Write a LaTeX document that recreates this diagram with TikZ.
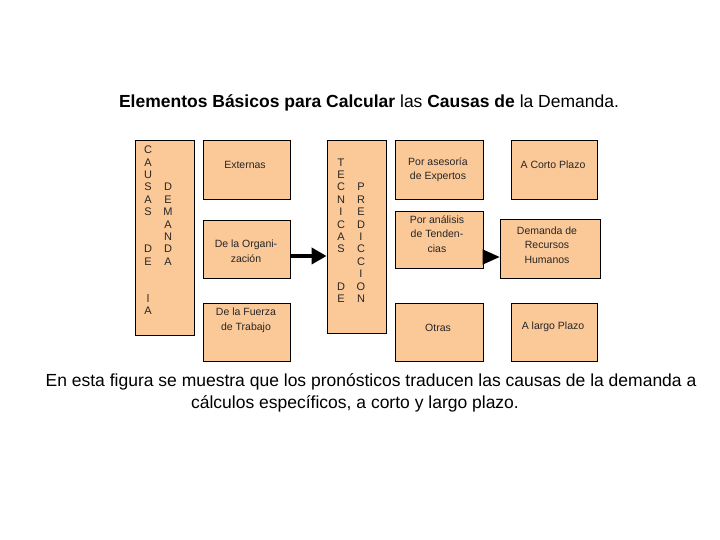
\documentclass[tikz,border=0pt]{standalone}
\usepackage{fontspec}
\setmainfont{Liberation Sans}
\usetikzlibrary{shadows,arrows.meta}
\definecolor{peach}{RGB}{251,200,152}
\begin{document}
\begin{tikzpicture}[x=1pt,y=1pt,
  box/.style={draw=black, line width=0.8pt, fill=peach, inner sep=0pt,
    general shadow={fill=black, shadow xshift=1.3pt, shadow yshift=-1.3pt}},
  lbl/.style={font=\fontsize{10.5}{14.5}\selectfont, align=center, text=black!85, anchor=center, inner sep=0pt},
  vlet/.style={font=\fontsize{11}{12}\selectfont, text=black!85, anchor=center, inner sep=0pt},
  bigarrow/.style={line width=4pt, -{Triangle[length=15pt,width=16pt]}},
  wedge/.style={line width=1pt, -{Triangle[length=17pt,width=15pt]}},
  captxt/.style={font=\fontsize{17.5}{22}\selectfont, inner sep=0pt}]
\useasboundingbox (0,0) rectangle (720,540);

% title
\node[font=\fontsize{17.5}{20}\selectfont, inner sep=0pt] (title) at (369,437)
  {\textbf{Elementos Básicos para Calcular} las \textbf{Causas de} la Demanda.};

% boxes
\node[box, minimum width=59pt, minimum height=195pt] (causas) at (164.5,302.5) {};
\node[box, minimum width=87pt, minimum height=59pt] (ext) at (246.5,370.5) {};
\node[box, minimum width=87pt, minimum height=58pt] (org) at (246.5,291) {};
\node[box, minimum width=87pt, minimum height=58pt] (fue) at (246.5,208) {};
\node[box, minimum width=59pt, minimum height=193pt] (tec) at (356.5,303.5) {};
\node[box, minimum width=88pt, minimum height=59pt] (ase) at (439,370.5) {};
\node[box, minimum width=88pt, minimum height=57pt] (ana) at (439,300.5) {};
\node[box, minimum width=88pt, minimum height=58pt] (otr) at (439,208) {};
\node[box, minimum width=86pt, minimum height=59pt] (cor) at (554,370.5) {};
\node[box, minimum width=100pt, minimum height=59pt] (dem) at (550,291.5) {};
\node[box, minimum width=86pt, minimum height=58pt] (lar) at (554,208) {};

% box texts
\node[lbl] (tExt) at (245,375) {Externas};
\node[lbl] (tOrg) at (246,288.5) {De la Organi-\\zación};
\node[lbl] (tFue) at (246,219.5) {De la Fuerza\\de Trabajo};
\node[lbl] (tAse) at (438,370.5) {Por asesoría\\de Expertos};
\node[lbl] (tAna) at (437,306) {Por análisis\\de Tenden-\\cias};
\node[lbl] (tOtr) at (438,212) {Otras};
\node[lbl] (tCor) at (553,375) {A Corto Plazo};
\node[lbl] (tDem) at (547,295) {Demanda de\\Recursos\\Humanos};
\node[lbl] (tLar) at (553,213) {A largo Plazo};

% vertical letters
\foreach \l/\r [count=\i] in {C/0,A/1,U/2,S/3,A/4,S/5,D/8,E/9,l/12,A/13}
  \node[vlet] (lc\i) at (148,{540-150-12.4*\r}) {\l};
\foreach \l/\r [count=\i] in {D/3,E/4,M/5,A/6,N/7,D/8,A/9}
  \node[vlet] (ld\i) at (168,{540-150-12.4*\r}) {\l};
\foreach \l/\r [count=\i] in {T/1,E/2,C/3,N/4,I/5,C/6,A/7,S/8,D/11,E/12}
  \node[vlet] (mc\i) at (341,{540-150-12.4*\r}) {\l};
\foreach \l/\r [count=\i] in {P/3,R/4,E/5,D/6,I/7,C/8,C/9,I/10,O/11,N/12}
  \node[vlet] (md\i) at (361,{540-150-12.4*\r}) {\l};

% arrows
\coordinate (ya) at (0,284);
\coordinate (yb) at (0,283);
\draw[bigarrow] (org.east |- ya) -- (tec.west |- ya);
\draw[wedge] (ana.east |- yb) -- (dem.west |- yb);

% caption
\node[captxt] (cap1) at (371,158)
  {En esta figura se muestra que los pronósticos traducen las causas de la demanda a};
\node[captxt] (cap2) at (355,136)
  {cálculos específicos, a corto y largo plazo.};
\end{tikzpicture}
\end{document}
